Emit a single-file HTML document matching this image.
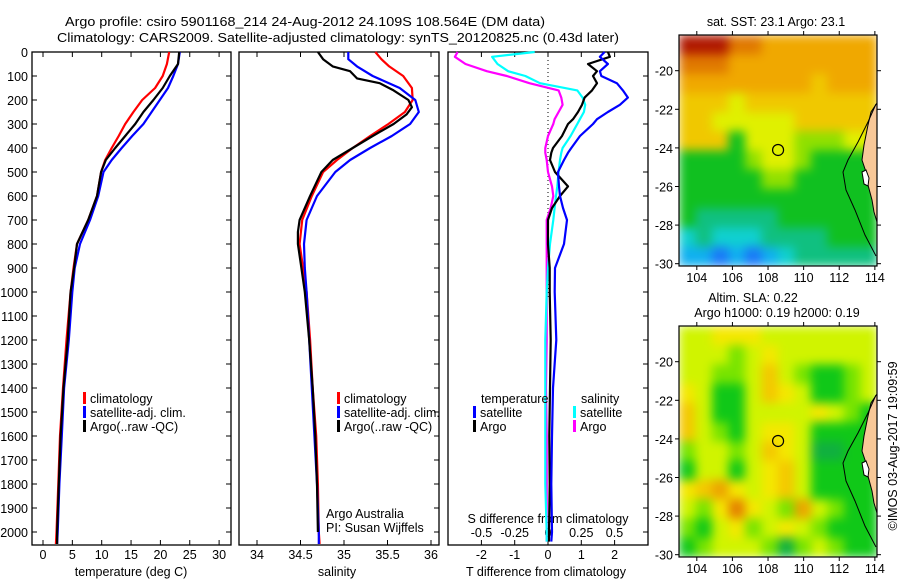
<!DOCTYPE html>
<html><head><meta charset="utf-8"><style>
html,body{margin:0;padding:0;background:#fff}
svg{display:block;font-family:"Liberation Sans",sans-serif;font-size:12.5px}
text{fill:#000}
</style></head><body>
<svg id="chart" width="900" height="580" viewBox="0 0 900 580" xmlns="http://www.w3.org/2000/svg">
<defs>
<filter id="bl" x="0" y="0" width="1" height="1" color-interpolation-filters="sRGB"><feGaussianBlur stdDeviation="5" edgeMode="duplicate"/></filter>
<clipPath id="clip1"><rect x="679" y="35" width="198" height="231"/></clipPath>
<clipPath id="clip2"><rect x="679" y="326" width="198" height="231"/></clipPath>
</defs>
<rect x="0" y="0" width="900" height="580" fill="#fff"/>
<text x="65" y="26" textLength="480" lengthAdjust="spacingAndGlyphs" font-size="13">Argo profile: csiro 5901168_214 24-Aug-2012 24.109S 108.564E (DM data)</text>
<text x="57" y="42" textLength="562" lengthAdjust="spacingAndGlyphs" font-size="13">Climatology: CARS2009. Satellite-adjusted climatology: synTS_20120825.nc (0.43d later)</text>
<g id="g"></g>
</svg>
<script>
// ---------- data ----------
const depthT = [0,50,100,150,200,250,300,350,400,450,500,600,700,800,900,1000,1200,1400,1600,1800,2000,2050];
const tempClim = [21.5,21.1,20.4,19.1,16.9,15.4,14.0,12.9,11.7,10.6,9.9,9.2,7.7,5.8,5.2,4.7,4.0,3.4,2.9,2.6,2.3,2.2];
const tempSat  = [23.3,23,22.2,21.3,19.9,18.5,17.1,15.2,13.4,11.7,10.3,9.4,8,6.3,5.4,5.0,4.4,3.6,3.2,2.8,2.5,2.4];
const tempArgo = [23.2,23,21.6,20.4,18.8,17.1,15.7,14.0,12.3,10.7,9.9,9.2,7.7,5.8,5.3,4.7,4.2,3.5,3.0,2.7,2.4,2.4];
const depthS = [0,30,60,100,150,200,250,300,350,400,450,500,600,700,800,900,1000,1200,1400,1600,1800,2000,2050];
const salClim = [35.36,35.43,35.52,35.68,35.78,35.79,35.70,35.51,35.30,35.10,34.92,34.76,34.63,34.52,34.49,34.53,34.57,34.61,34.64,34.68,34.70,34.71,34.72];
const salSat  = [35.05,35.05,35.15,35.33,35.64,35.82,35.86,35.76,35.55,35.30,35.07,34.90,34.69,34.57,34.54,34.55,34.57,34.60,34.63,34.66,34.69,34.71,34.71];
const depthArgoS = [0,30,60,80,110,130,160,200,230,260,300,350,400,450,500,600,700,750,800,900,1000,1200,1400,1600,1800,2000];
const salArgo = [34.70,34.76,34.87,35.07,35.15,35.41,35.57,35.74,35.78,35.72,35.57,35.33,35.10,34.87,34.74,34.61,34.49,34.47,34.47,34.51,34.55,34.60,34.64,34.67,34.69,34.70];
const depthD = [0,20,50,80,100,130,160,190,220,250,280,300,350,400,420,450,500,560,600,650,700,800,900,1000,1200,1400,1600,1800,2000,2040];
const dTsat  = [1.7,1.56,1.8,1.56,1.6,2.07,2.25,2.4,2.16,1.8,1.47,1.35,0.96,0.7,0.6,0.48,0.3,0.33,0.36,0.45,0.57,0.48,0.21,0.2,0.25,0.15,0.12,0.1,0.12,0.1];
const dTargo = [1.8,1.86,1.2,1.47,1.35,1.47,1.32,1.1,1.02,0.9,0.75,0.6,0.42,0.15,0.1,0.06,0.21,0.6,0.36,0.12,0.0,0.0,0.05,0.05,0.08,0.06,0.04,0.05,0.03,0.03];
const dSsat  = [-0.1,-0.42,-0.38,-0.30,-0.17,-0.06,0.22,0.26,0.28,0.27,0.24,0.22,0.17,0.11,0.10,0.09,0.08,0.07,0.06,0.05,0.04,0.015,0.0,-0.01,-0.02,-0.02,-0.02,-0.02,-0.01,-0.01];
const dSargo = [-0.68,-0.70,-0.62,-0.46,-0.31,-0.14,0.08,0.10,0.11,0.08,0.05,0.04,0.0,-0.02,-0.02,-0.01,0.0,0.03,0.04,0.02,-0.01,-0.01,-0.01,-0.01,-0.01,-0.015,-0.01,-0.01,-0.01,-0.01];
const depthTicks = [0,100,200,300,400,500,600,700,800,900,1000,1100,1200,1300,1400,1500,1600,1700,1800,1900,2000];
const tempTicks = [0,5,10,15,20,25,30];
const salTicks = [34,34.5,35,35.5,36];
const dTTicks = [-2,-1,0,1,2];
const dSTicks = [-0.5,-0.25,0,0.25,0.5];
const lonTicks = [104,106,108,110,112,114];
const latTicks = [-20,-22,-24,-26,-28,-30];
const argoLon = 108.564, argoLat = -24.109;
const sstGrid = [
[10,10,10,9,9,8,8,8,8,8,8,8],
[9,9,9,8,8,8,8,8,8,8,8,8],
[8,8,8,8,8,8,8,8,7,8,8,8],
[7,7,7,6,7,7,7,7,7,7,7,7],
[7,7,6,6,6,6,6,7,7,7,7,7],
[7,7,7,4,6,6,6,5,5,5,6,6],
[4,4,4,4,5,6,6,5,4,4,4,4],
[4,4,4,4,4,5,5,4,4,4,4,4],
[4,4,4,4,4,4,4,4,4,4,4,4],
[4,3,3,3,3,3,4,4,4,4,4,4],
[2,3,2,2,2,3,3,3,3,4,4,4],
[1,1,0,1,0,1,2,3,3,3,3,3]];
const slaGrid = [
[3,3,4,4,4,3,3,3,3,3,3,3],
[3,3,3,2,3,4,3,3,3,3,3,3],
[3,3,2,2,3,5,3,2,1,1,2,3],
[4,3,1,1,3,5,4,3,1,1,2,3],
[5,3,1,1,3,3,3,3,4,3,2,1],
[5,3,2,1,3,4,4,3,1,1,1,1],
[2,3,3,2,3,5,4,3,0,0,1,1],
[1,3,3,1,3,4,5,3,1,1,1,1],
[4,5,6,4,3,4,5,3,1,1,1,1],
[3,2,4,7,4,3,2,6,3,2,1,1],
[2,1,3,4,2,3,4,3,2,1,1,1],
[1,2,3,3,3,2,0,2,3,2,1,1]];
const sstColors = ["#1a78f8","#10b0f0","#10d0d0","#10c080","#10c020","#90e000","#e0f000","#f0c800","#f0a800","#e07800","#b01800"];
const slaColors = ["#10b040","#10c818","#78e400","#d0f400","#f4e800","#f4c800","#eca400","#e48000"];

// ---------- helpers ----------
const NS="http://www.w3.org/2000/svg";
const G=document.getElementById('g');
function mk(tag,attrs,parent){const e=document.createElementNS(NS,tag);for(const k in attrs)e.setAttribute(k,attrs[k]);(parent||G).appendChild(e);return e;}
function txt(x,y,s,anchor,parent){const t=mk('text',{x:x,y:y,'text-anchor':anchor||'middle'},parent);t.textContent=s;return t;}
const TOP=52, BOT=545;
const yD=d=>TOP+d*0.24;
const xT=v=>43+v*5.87;
const xS=v=>257+(v-34)*87;
const xDT=v=>548+v*33.3;
const xDS=v=>548+v*133;
const panels=[[32,231],[239,439],[448,648]];

function line(xs,ys,fx,color,name,w){
  const pts=xs.map((v,i)=>fx(v).toFixed(1)+','+yD(ys[i]).toFixed(1)).join(' ');
  const p=mk('polyline',{points:pts,fill:'none',stroke:color,'stroke-width':w||2.2,'stroke-linejoin':'round'});
  
  
}

panels.forEach((pp,i)=>{
  const r=mk('rect',{x:pp[0],y:TOP,width:pp[1]-pp[0],height:BOT-TOP,fill:'none',stroke:'#000','stroke-width':1.3});
  
  
  depthTicks.forEach(d=>{
    mk('line',{x1:pp[1]-5,x2:pp[1],y1:yD(d),y2:yD(d),stroke:'#000'});
  });
});
depthTicks.forEach(d=>{
  const t=txt(28,yD(d)+5,String(d),'end');
  
  
  mk('line',{x1:32,x2:37,y1:yD(d),y2:yD(d),stroke:'#000'});
});
function xticks(ticks,fx,ylab){
  ticks.forEach(v=>{
    const x=fx(v);
    mk('line',{x1:x,x2:x,y1:BOT,y2:BOT-5,stroke:'#000'});
    mk('line',{x1:x,x2:x,y1:TOP,y2:TOP+5,stroke:'#000'});
    const t=txt(x,ylab,String(v));
    
    
  });
}
xticks(tempTicks,xT,559);
xticks(salTicks,xS,559);
xticks(dTTicks,xDT,559);
dSTicks.forEach(v=>{const t=txt(xDS(v),537,String(v));});
let t;
t=txt(131,576,'temperature (deg C)');
t=txt(337,576,'salinity');
t=txt(546,576,'T difference from climatology');
t=txt(548,523,'S difference from climatology');

mk('line',{x1:548,x2:548,y1:TOP,y2:300,stroke:'#000','stroke-dasharray':'1,3'});

line(tempClim,depthT,xT,'#f00','temp-climatology-line');
line(tempSat,depthT,xT,'#00f','temp-satellite-line');
line(tempArgo,depthT,xT,'#000','temp-argo-line');
line(salClim,depthS,xS,'#f00','sal-climatology-line');
line(salSat,depthS,xS,'#00f','sal-satellite-line');
line(salArgo,depthArgoS,xS,'#000','sal-argo-line');
line(dSargo,depthD,xDS,'#f0f','s-diff-argo-line');
line(dSsat,depthD,xDS,'#0ff','s-diff-satellite-line');
line(dTargo,depthD,xDT,'#000','t-diff-argo-line');
line(dTsat,depthD,xDT,'#00f','t-diff-satellite-line');

function leg(x,y,color,label,name){
  const r=mk('rect',{x:x,y:y-11,width:3,height:12,fill:color});
  
  
  const tt=txt(x+7,y,label,'start');
  
  
}
leg(83,403,'#f00','climatology','legend-climatology');
leg(83,417,'#00f','satellite-adj. clim.','legend-satellite');
leg(83,431,'#000','Argo(..raw -QC)','legend-argo');
leg(337,403,'#f00','climatology','legend2-climatology');
leg(337,417,'#00f','satellite-adj. clim.','legend2-satellite');
leg(337,431,'#000','Argo(..raw -QC)','legend2-argo');
t=txt(481,403,'temperature','start');
t=txt(581,403,'salinity','start');
leg(473,417,'#00f','satellite','legend-t-satellite');
leg(473,431,'#000','Argo','legend-t-argo');
leg(573,417,'#0ff','satellite','legend-s-satellite');
leg(573,431,'#f0f','Argo','legend-s-argo');
t=txt(326,518,'Argo Australia','start');
t=txt(326,532,'PI: Susan Wijffels','start');

// ---------- maps ----------
const LON0=103, LON1=114.12, LAT0=-18.15, LAT1=-30.12;
function drawMap(top,grid,colors,name,clipId){
  const L=679,R=877,B=top+231;
  const fx=lon=>L+(lon-LON0)/(LON1-LON0)*(R-L);
  const fy=lat=>top+(LAT0-lat)/(LAT0-LAT1)*(B-top);
  const rows=grid.length, cols=grid[0].length;
  const cw=(R-L)/cols, ch=(B-top)/rows;
  const cg=mk('g',{'clip-path':'url(#'+clipId+')'});
  const bg=mk('g',{filter:'url(#bl)'},cg);
  grid.forEach((row,ri)=>row.forEach((v,ci)=>{
    const c=mk('rect',{x:(L+ci*cw).toFixed(2),y:(top+ri*ch).toFixed(2),width:(cw+0.5).toFixed(2),height:(ch+0.5).toFixed(2),fill:colors[v]},bg);
    
    
  }));
  const o=top-35;
  const land=mk('polygon',{points:[[877,103],[871,112],[868,125],[864,145],[862,160],[866,172],[868,185],[872,200],[874,212],[877,222]].map(p=>p[0]+','+(p[1]+o)).join(' '),fill:'#f8c898',stroke:'#000','stroke-width':1});
  
  
  mk('polyline',{points:[[876,104],[868,122],[858,142],[848,160],[843,172],[846,190],[855,210],[865,235],[876,256]].map(p=>p[0]+','+(p[1]+o)).join(' '),fill:'none',stroke:'#000','stroke-width':1});
  mk('polygon',{points:[[862,172],[866,170],[869,178],[868,186],[864,184]].map(p=>p[0]+','+(p[1]+o)).join(' '),fill:'#fff',stroke:'#000','stroke-width':1});
  const fr=mk('rect',{x:L,y:top,width:R-L,height:B-top,fill:'none',stroke:'#000','stroke-width':1.2});
  
  
  lonTicks.forEach(v=>{
    const x=fx(v);
    mk('line',{x1:x,x2:x,y1:B,y2:B+4,stroke:'#000'});
    mk('line',{x1:x,x2:x,y1:top,y2:top-4,stroke:'#000'});
    const tl=txt(x,B+16,String(v));
    
    
  });
  latTicks.forEach(v=>{
    const y=fy(v);
    mk('line',{x1:L,x2:L-4,y1:y,y2:y,stroke:'#000'});
    mk('line',{x1:R,x2:R+4,y1:y,y2:y,stroke:'#000'});
    const tl=txt(L-6,y+5,String(v),'end');
    
    
  });
  const m=mk('circle',{cx:fx(argoLon),cy:fy(argoLat),r:5.5,fill:'none',stroke:'#000','stroke-width':1.2});
  
  
}
drawMap(35,sstGrid,sstColors,'sst-map','clip1');
drawMap(326,slaGrid,slaColors,'sla-map','clip2');
t=txt(776,26,'sat. SST: 23.1  Argo: 23.1');
t=txt(753,302,'Altim. SLA: 0.22');
t=txt(777,317,'Argo h1000: 0.19 h2000: 0.19');
t=txt(0,0,'©IMOS 03-Aug-2017 19:09:59');
t.setAttribute('transform','translate(897,446) rotate(-90)');

</script>
</body></html>
